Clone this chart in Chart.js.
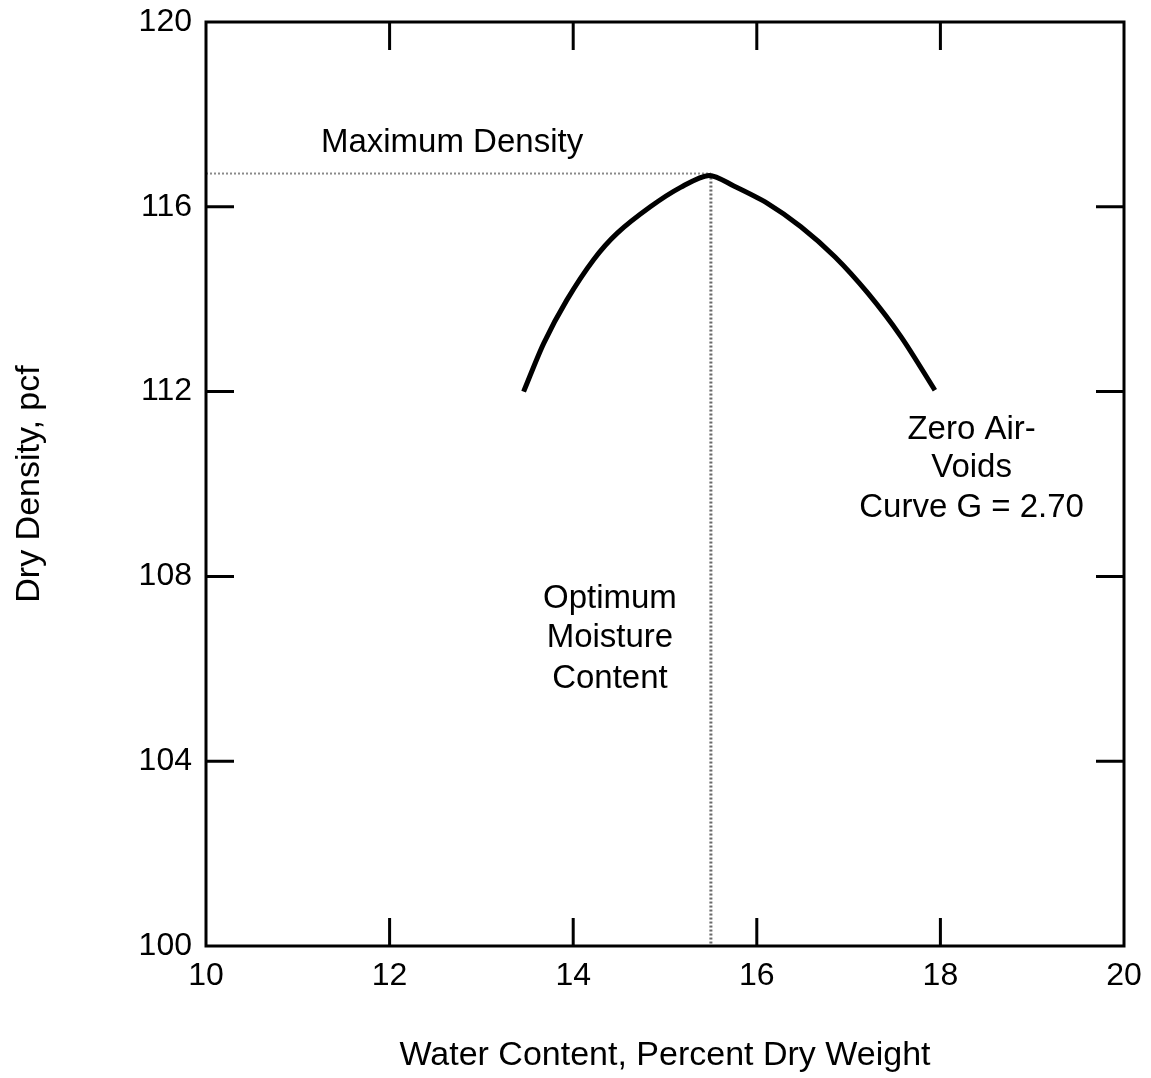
<!DOCTYPE html>
<html>
<head>
<meta charset="utf-8">
<script src="https://cdn.jsdelivr.net/npm/chart.js@4.4.1/dist/chart.umd.min.js"></script>
<style>
  html, body { margin: 0; padding: 0; background: #fff; }
  #wrap { width: 1151px; height: 1078px; }
</style>
</head>
<body>
<div id="wrap"><canvas id="chart"></canvas></div>
<script>
// compaction curve
const waterContent = [13.46, 13.68, 13.93, 14.22, 14.48, 14.84, 15.17, 15.48, 15.75, 16.12, 16.48, 16.85, 17.21, 17.57, 17.94];
const dryDensity   = [112.0, 113.05, 113.98, 114.85, 115.43, 116.0, 116.42, 116.68, 116.45, 116.07, 115.57, 114.92, 114.13, 113.19, 112.03];

// maximum density / optimum moisture guide lines
const maxDensity = 116.72;
const optMoisture = 15.5;

const xTicks = [10, 12, 14, 16, 18, 20];
const yTicks = [100, 104, 108, 112, 116, 120];

const FONT = "'Liberation Sans', Arial, sans-serif";

const notes = [
  { x: 12.68, y: [117.38], lines: ['Maximum Density'] },
  { x: 14.40, y: [107.51, 106.67, 105.78], lines: ['Optimum', 'Moisture', 'Content'] },
  { x: 18.34, y: [111.17, 110.35, 109.48], lines: ['Zero Air-', 'Voids', 'Curve G = 2.70'] },
];

const frame = {
  id: 'frame',
  afterDatasetsDraw(chart) {
    const { ctx, chartArea: a, scales } = chart;
    ctx.save();
    ctx.strokeStyle = '#000';
    ctx.lineWidth = 3;
    ctx.strokeRect(a.left, a.top, a.right - a.left, a.bottom - a.top);
    // inward tick marks on all four sides
    const len = 28;
    ctx.beginPath();
    xTicks.slice(1, -1).forEach(v => {
      const px = scales.x.getPixelForValue(v);
      ctx.moveTo(px, a.bottom); ctx.lineTo(px, a.bottom - len);
      ctx.moveTo(px, a.top); ctx.lineTo(px, a.top + len);
    });
    yTicks.slice(1, -1).forEach(v => {
      const py = scales.y.getPixelForValue(v);
      ctx.moveTo(a.left, py); ctx.lineTo(a.left + len, py);
      ctx.moveTo(a.right, py); ctx.lineTo(a.right - len, py);
    });
    ctx.stroke();

    ctx.fillStyle = '#000';
    ctx.font = '33px ' + FONT;
    ctx.textAlign = 'center';
    ctx.textBaseline = 'middle';
    notes.forEach(n => {
      const px = scales.x.getPixelForValue(n.x);
      n.lines.forEach((t, i) => ctx.fillText(t, px, scales.y.getPixelForValue(n.y[i])));
    });
    ctx.restore();
  }
};

new Chart(document.getElementById('chart'), {
  type: 'scatter',
  data: {
    datasets: [
      {
        data: waterContent.map((x, i) => ({ x, y: dryDensity[i] })),
        showLine: true,
        borderColor: '#000',
        borderWidth: 5,
        pointRadius: 0,
        tension: 0.3,
      },
      {
        data: [{ x: 10, y: maxDensity }, { x: optMoisture, y: maxDensity }],
        showLine: true,
        borderColor: '#8a8a8a',
        borderWidth: 2,
        borderDash: [2, 2],
        pointRadius: 0,
      },
      {
        data: [{ x: optMoisture, y: maxDensity }, { x: optMoisture, y: 100 }],
        showLine: true,
        borderColor: '#6a6a6a',
        borderWidth: 3,
        borderDash: [2, 2],
        pointRadius: 0,
      },
    ],
  },
  options: {
    responsive: true,
    maintainAspectRatio: false,
    animation: false,
    layout: { padding: { top: 22, right: 27, left: 0, bottom: 0 } },
    plugins: { legend: { display: false }, tooltip: { enabled: false } },
    scales: {
      x: {
        type: 'linear',
        min: 10, max: 20,
        afterBuildTicks: s => { s.ticks = xTicks.map(v => ({ value: v })); },
        afterFit: s => { s.height = 132; s.paddingLeft = 0; s.paddingRight = 0; },
        grid: { display: false, drawTicks: false },
        border: { display: false },
        ticks: { padding: 11, color: '#000', font: { family: FONT, size: 32 } },
        title: {
          display: true,
          text: 'Water Content, Percent Dry Weight',
          color: '#000',
          font: { family: FONT, size: 34 },
          padding: { top: 0, bottom: 2 },
        },
      },
      y: {
        type: 'linear',
        min: 100, max: 120,
        afterBuildTicks: s => { s.ticks = yTicks.map(v => ({ value: v })); },
        afterFit: s => { s.width = 206; s.paddingTop = 0; s.paddingBottom = 0; },
        grid: { display: false, drawTicks: false },
        border: { display: false },
        ticks: { padding: 14, color: '#000', font: { family: FONT, size: 32 } },
        title: {
          display: true,
          text: 'Dry Density, pcf',
          color: '#000',
          font: { family: FONT, size: 34 },
          padding: { top: 9, bottom: 0 },
        },
      },
    },
  },
  plugins: [frame],
});
</script>
</body>
</html>
